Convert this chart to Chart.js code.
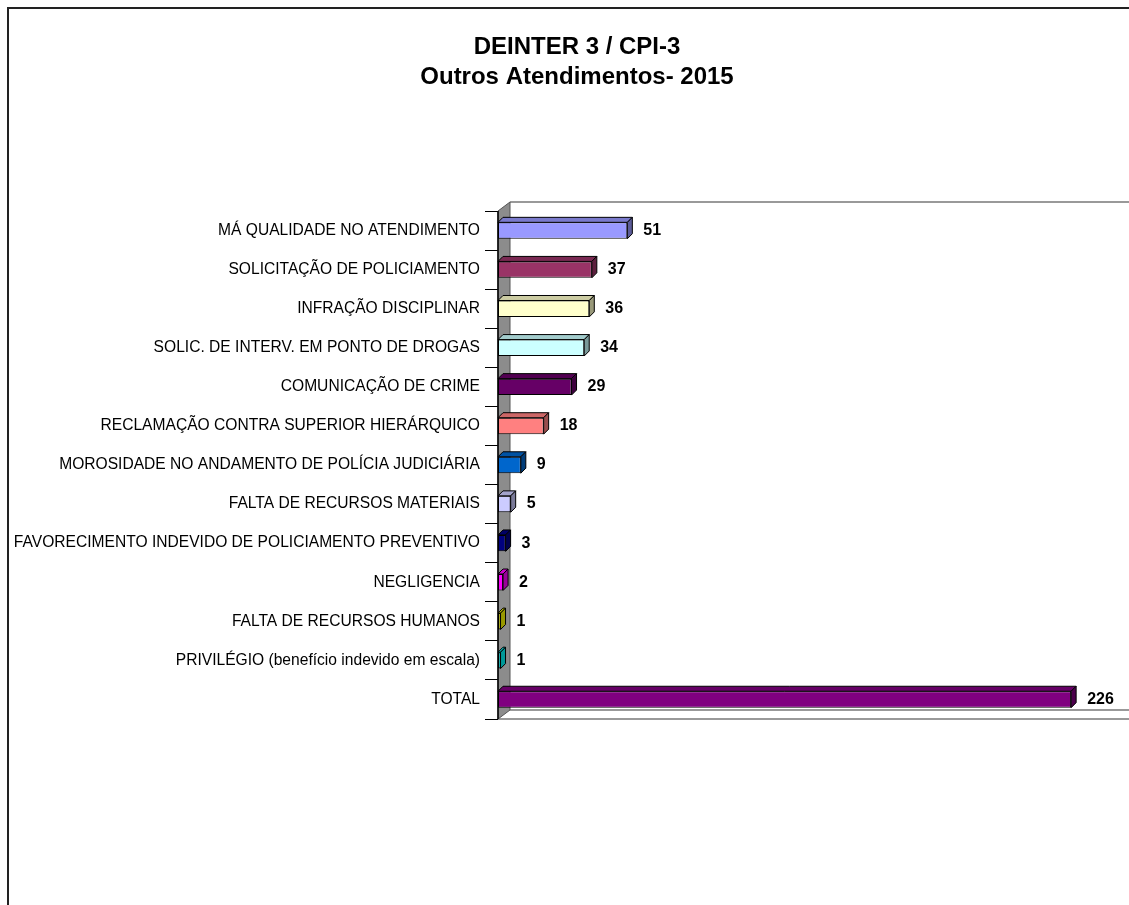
<!DOCTYPE html>
<html>
<head>
<meta charset="utf-8">
<script src="https://cdn.jsdelivr.net/npm/chart.js@4.4.0/dist/chart.umd.min.js"></script>
<style>
html, body { margin: 0; padding: 0; background: #fff; overflow: hidden; }
</style>
</head>
<body>
<canvas id="graficoAtendimentos" width="1150" height="905"></canvas>
<script>
var categorias = [
    'MÁ QUALIDADE NO ATENDIMENTO',
    'SOLICITAÇÃO DE POLICIAMENTO',
    'INFRAÇÃO DISCIPLINAR',
    'SOLIC. DE INTERV. EM PONTO DE DROGAS',
    'COMUNICAÇÃO DE CRIME',
    'RECLAMAÇÃO CONTRA SUPERIOR HIERÁRQUICO',
    'MOROSIDADE NO ANDAMENTO DE POLÍCIA JUDICIÁRIA',
    'FALTA DE RECURSOS MATERIAIS',
    'FAVORECIMENTO INDEVIDO DE POLICIAMENTO PREVENTIVO',
    'NEGLIGENCIA',
    'FALTA DE RECURSOS HUMANOS',
    'PRIVILÉGIO (benefício indevido em escala)',
    'TOTAL'
];
var valores = [51, 37, 36, 34, 29, 18, 9, 5, 3, 2, 1, 1, 226];
var cores = ['#9999FF', '#993366', '#FFFFCC', '#CCFFFF', '#660066', '#FF8080',
             '#0066CC', '#CCCCFF', '#000080', '#FF00FF', '#FFFF00', '#00FFFF', '#800080'];
var titulo = ['DEINTER 3 / CPI-3', 'Outros Atendimentos- 2015'];

// escurece uma cor hex
function escurecer(hex, f) {
    var r = parseInt(hex.substr(1, 2), 16), g = parseInt(hex.substr(3, 2), 16), b = parseInt(hex.substr(5, 2), 16);
    return 'rgb(' + Math.round(r * f) + ',' + Math.round(g * f) + ',' + Math.round(b * f) + ')';
}

function poligono(ctx, pts, fill, stroke) {
    ctx.beginPath();
    ctx.moveTo(pts[0][0], pts[0][1]);
    for (var i = 1; i < pts.length; i++) ctx.lineTo(pts[i][0], pts[i][1]);
    ctx.closePath();
    if (fill) { ctx.fillStyle = fill; ctx.fill(); }
    if (stroke) { ctx.strokeStyle = stroke; ctx.lineWidth = 1; ctx.stroke(); }
}

var efeito3d = {
    id: 'efeito3d',
    beforeDraw: function (chart) {
        var ctx = chart.ctx;
        ctx.save();
        // moldura
        ctx.strokeStyle = '#222';
        ctx.lineWidth = 2;
        ctx.beginPath();
        ctx.moveTo(8, chart.height);
        ctx.lineTo(8, 8);
        ctx.lineTo(chart.width, 8);
        ctx.stroke();
        // titulo
        ctx.fillStyle = '#000';
        ctx.font = 'bold 24px "Liberation Sans", Arial, sans-serif';
        ctx.textAlign = 'center';
        ctx.textBaseline = 'middle';
        ctx.fillText(titulo[0], 577, 47);
        ctx.fillText(titulo[1], 577, 77);
        ctx.restore();
    },
    beforeDatasetsDraw: function (chart) {
        var ctx = chart.ctx, a = chart.chartArea;
        var L = a.left, T = a.top, B = a.bottom, dx = 12, dy = 9;
        ctx.save();
        // chão e parede de fundo
        ctx.strokeStyle = '#999';
        ctx.lineWidth = 2;
        ctx.beginPath();
        ctx.moveTo(L, B); ctx.lineTo(chart.width, B);
        ctx.moveTo(L + dx, B - dy); ctx.lineTo(chart.width, B - dy);
        ctx.moveTo(L + dx, T - dy); ctx.lineTo(chart.width, T - dy);
        ctx.stroke();
        // parede lateral
        poligono(ctx, [[L, T], [L + dx, T - dy], [L + dx, B - dy], [L, B]], '#8c8c8c', '#555');
        ctx.strokeStyle = '#000';
        ctx.lineWidth = 1.5;
        ctx.beginPath();
        ctx.moveTo(L, T); ctx.lineTo(L, B);
        ctx.stroke();
        ctx.restore();
    },
    afterDatasetsDraw: function (chart) {
        var ctx = chart.ctx, d = 5;
        var meta = chart.getDatasetMeta(0);
        ctx.save();
        meta.data.forEach(function (bar, i) {
            var x0 = bar.base, x1 = bar.x, top = bar.y - bar.height / 2, bot = bar.y + bar.height / 2;
            poligono(ctx, [[x0, top], [x0 + d, top - d], [x1 + d, top - d], [x1, top]], escurecer(cores[i], 0.8), '#000');
            poligono(ctx, [[x1, top], [x1 + d, top - d], [x1 + d, bot - d], [x1, bot]], escurecer(cores[i], 0.6), '#000');
            ctx.fillStyle = '#000';
            ctx.font = 'bold 16px "Liberation Sans", Arial, sans-serif';
            ctx.textAlign = 'left';
            ctx.textBaseline = 'middle';
            ctx.fillText(valores[i], x1 + d + 11, bar.y);
        });
        ctx.restore();
    }
};

Chart.defaults.color = '#000';
Chart.defaults.font.family = '"Liberation Sans", Arial, sans-serif';

var ctx = document.getElementById('graficoAtendimentos').getContext('2d');
var grafico = new Chart(ctx, {
    type: 'bar',
    data: {
        labels: categorias,
        datasets: [{
            data: valores,
            backgroundColor: cores,
            borderColor: '#000',
            borderWidth: 1,
            borderSkipped: false,
            barPercentage: 0.42,
            categoryPercentage: 1
        }]
    },
    options: {
        indexAxis: 'y',
        responsive: false,
        animation: false,
        layout: { padding: { left: 0, right: 18, top: 211, bottom: 186 } },
        scales: {
            x: { display: false, min: 0, max: 250 },
            y: {
                afterFit: function (s) { s.width = 498; },
                border: { display: false },
                grid: { drawOnChartArea: false, drawTicks: true, tickLength: 13, color: '#000', offset: true },
                ticks: { padding: 5, font: { size: 15.6 }, color: '#000', autoSkip: false }
            }
        },
        plugins: {
            legend: { display: false },
            tooltip: { enabled: false },
            title: { display: false }
        }
    },
    plugins: [efeito3d]
});
</script>
</body>
</html>
